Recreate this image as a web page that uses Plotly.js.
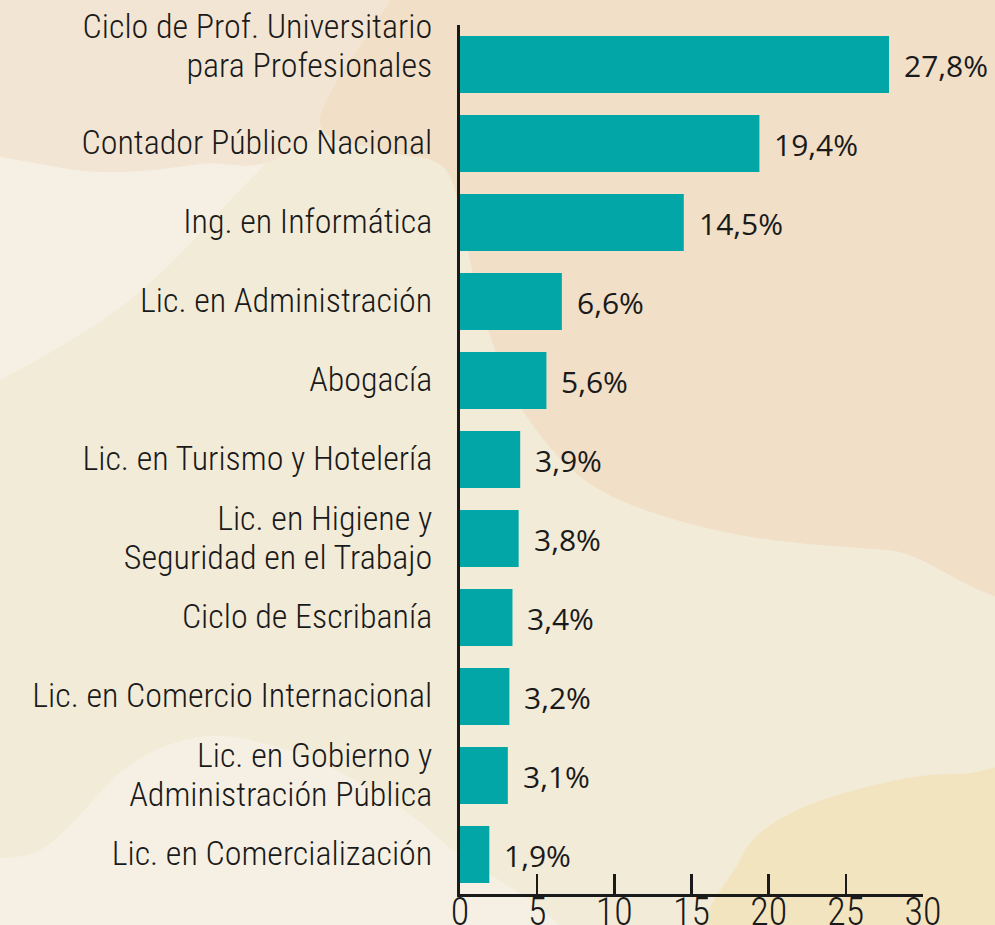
<!DOCTYPE html>
<html>
<head>
<meta charset="utf-8">
<script src="https://cdn.plot.ly/plotly-3.0.1.min.js"></script>
<style>
  html, body { margin: 0; padding: 0; background: #F2EBD8; }
  #chart { width: 995px; height: 925px; }
</style>
</head>
<body>
<div id="chart"></div>
<script>
// ---- data ----
const categories = [
  "Ciclo de Prof. Universitario<br>para Profesionales",
  "Contador Público Nacional",
  "Ing. en Informática",
  "Lic. en Administración",
  "Abogacía",
  "Lic. en Turismo y Hotelería",
  "Lic. en Higiene y<br>Seguridad en el Trabajo",
  "Ciclo de Escribanía",
  "Lic. en Comercio Internacional",
  "Lic. en Gobierno y<br>Administración Pública",
  "Lic. en Comercialización"
];
const values = [27.8, 19.4, 14.5, 6.6, 5.6, 3.9, 3.8, 3.4, 3.2, 3.1, 1.9];
const xTickVals = [0, 5, 10, 15, 20, 25, 30];

// ---- layout geometry ----
const W = 995, H = 925;
const M = { l: 460, r: 72, t: 25, b: 31 };
const PW = W - M.l - M.r, PH = H - M.t - M.b;
function px(x) { return (x - M.l) / PW; }
function py(y) { return 1 - (y - M.t) / PH; }
function smooth(pts) {
  const n = pts.length;
  let d = 'M' + px(pts[0][0]) + ',' + py(pts[0][1]);
  for (let i = 0; i < n; i++) {
    const p0 = pts[(i - 1 + n) % n], p1 = pts[i], p2 = pts[(i + 1) % n], p3 = pts[(i + 2) % n];
    const c1 = [p1[0] + (p2[0] - p0[0]) / 6, p1[1] + (p2[1] - p0[1]) / 6];
    const c2 = [p2[0] - (p3[0] - p1[0]) / 6, p2[1] - (p3[1] - p1[1]) / 6];
    d += ' C' + px(c1[0]) + ',' + py(c1[1]) + ' ' + px(c2[0]) + ',' + py(c2[1]) + ' ' + px(p2[0]) + ',' + py(p2[1]);
  }
  return d + ' Z';
}
function blob(pts, color) {
  return { type: 'path', xref: 'paper', yref: 'paper', layer: 'below', path: smooth(pts),
           fillcolor: color, line: { width: 0 } };
}
const shapes = [
  blob([[-60,-60],[420,-60],[330,90],[240,190],[130,300],[0,380],[-60,400]], '#F6F0E4'),
  blob([[-60,-60],[460,-60],[300,143],[200,164],[100,172],[0,157],[-60,150]], '#F3E5D3'),
  blob([[420,-60],[390,0],[320,120],[380,150],[444,168],[465,240],[489,333],[527,417],[600,490],[730,533],[888,550],[1060,555],[1060,-60]], '#F1DFC8'),
  blob([[-60,870],[40,850],[127,767],[200,737],[270,745],[349,777],[444,843],[540,960],[-60,980]], '#F6F0E4'),
  blob([[725,960],[740,860],[793,812],[888,782],[960,774],[1060,780],[1060,990]], '#F2E4BE')
];

const FONT_COND = '"Roboto Condensed", Roboto, sans-serif';
const INK = '#1a1a1a';
const CAT_SIZE = 34;

const trace = {
  type: 'bar', orientation: 'h', x: values, y: categories,
  marker: { color: '#03A6A6', line: { width: 0 } },
  width: 0.72, hoverinfo: 'none', cliponaxis: false
};

const annotations = values.map((v, i) => ({
  x: v, y: categories[i], xref: 'x', yref: 'y',
  text: v.toFixed(1).replace('.', ',') + '%',
  showarrow: false, xanchor: 'left', yanchor: 'middle', xshift: 13, yshift: -1,
  font: { family: '"Open Sans", "Noto Sans", sans-serif', size: 30, color: INK }
}));

const layout = {
  width: W, height: H,
  margin: M,
  paper_bgcolor: '#F2EBD8', plot_bgcolor: 'rgba(0,0,0,0)',
  showlegend: false,
  shapes: shapes,
  annotations: annotations,
  xaxis: {
    range: [0, 30], tickvals: xTickVals, ticktext: xTickVals.map(String),
    ticks: 'inside', ticklen: 20, tickwidth: 2.5, tickcolor: INK,
    showline: true, linecolor: INK, linewidth: 3,
    showgrid: false, zeroline: false, fixedrange: true,
    tickfont: { family: FONT_COND, size: 38, color: INK, weight: 300 }, ticklabelstandoff: -18
  },
  yaxis: {
    type: 'category', range: [10.5, -0.5],
    ticks: '', showline: true, linecolor: INK, linewidth: 3,
    showgrid: false, zeroline: false, fixedrange: true,
    tickfont: { family: FONT_COND, size: CAT_SIZE, color: INK, weight: 300 },
    ticklabelstandoff: 18, ticklabelshift: 1
  }
};

Plotly.newPlot('chart', [trace], layout, { staticPlot: true, displayModeBar: false }).then(gd => {
  // tighten the line spacing of two-line category labels; lift the top label as in the original
  try {
    const NEW_DY = 1.13;
    gd.querySelectorAll('.ytick text').forEach(t => {
      const lines = t.querySelectorAll('tspan.line');
      if (lines.length < 2) return;
      lines.forEach((ln, k) => { if (k > 0) ln.setAttribute('dy', (k * NEW_DY) + 'em'); });
      let delta = (lines.length - 1) * (1.3 - NEW_DY) * CAT_SIZE / 2;
      if (t.textContent.indexOf('Ciclo de Prof.') === 0) delta -= 18;
      const tr = t.getAttribute('transform') || '';
      t.setAttribute('transform', tr + ' translate(0,' + delta + ')');
    });
  } catch (e) {}
});
</script>
</body>
</html>
